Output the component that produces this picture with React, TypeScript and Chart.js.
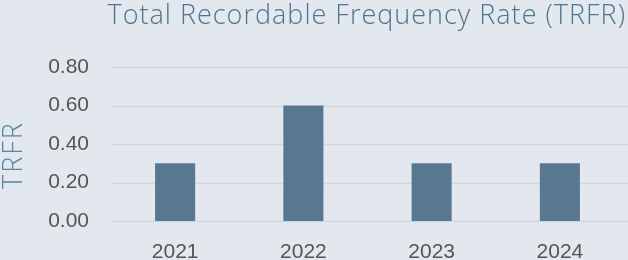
import React, { useEffect, useRef } from "react";
import { Chart, registerables } from "chart.js";

Chart.register(...registerables);

const categories = ["2021", "2022", "2023", "2024"];
const trfrValues = [0.3, 0.6, 0.3, 0.3];
const yTickValues = [0, 0.2, 0.4, 0.6, 0.8];
const yAxisTitle = "TRFR";
const chartTitle = "Total Recordable Frequency Rate (TRFR)";

const BG = "#e3e8ef";

const gridPlugin = {
  id: "extGrid",
  beforeDatasetsDraw(chart: any) {
    const { ctx, chartArea, scales } = chart;
    const y = scales.y;
    ctx.save();
    ctx.strokeStyle = "#d2d6db";
    ctx.lineWidth = 1.5;
    for (const v of yTickValues) {
      const py = Math.round(y.getPixelForValue(v)) + 0.5;
      ctx.beginPath();
      ctx.moveTo(chartArea.left, py);
      ctx.lineTo(chart.width, py);
      ctx.stroke();
    }
    ctx.restore();
  },
};

const textPlugin = {
  id: "texts",
  afterDraw(chart: any) {
    const { ctx } = chart;
    ctx.save();
    // chart title
    ctx.fillStyle = "#4f7690";
    ctx.font = "300 27px 'Open Sans'";
    (ctx as any).letterSpacing = "1px";
    ctx.textAlign = "right";
    ctx.textBaseline = "alphabetic";
    ctx.fillText(chartTitle, 626, 24);
    // y axis title
    ctx.translate(14, 155);
    ctx.rotate(-Math.PI / 2);
    ctx.fillStyle = "#5a84a0";
    (ctx as any).letterSpacing = "2px";
    ctx.font = "300 27px 'Open Sans'";
    ctx.textAlign = "center";
    ctx.textBaseline = "middle";
    ctx.fillText(yAxisTitle, 0, 0);
    ctx.restore();
  },
};

export default function App() {
  const ref = useRef<HTMLCanvasElement | null>(null);
  useEffect(() => {
    document.body.style.margin = "0";
    document.body.style.background = BG;
    const chart = new Chart(ref.current as HTMLCanvasElement, {
      type: "bar",
      data: {
        labels: categories,
        datasets: [
          {
            label: yAxisTitle,
            data: trfrValues,
            backgroundColor: "#587892",
            barPercentage: 0.3125,
            categoryPercentage: 1,
          },
        ],
      },
      plugins: [gridPlugin, textPlugin],
      options: {
        animation: false,
        responsive: false,
        layout: { padding: { left: 0, right: 4, top: 67, bottom: 0 } },
        plugins: {
          legend: { display: false },
          tooltip: { enabled: false },
          title: { display: false },
        },
        scales: {
          x: {
            grid: { display: false },
            border: { display: false },
            ticks: {
              color: "#555555",
              font: { family: "Liberation Sans", size: 21 },
              padding: 11,
            },
            afterFit(scale: any) {
              scale.height = 39;
            },
          },
          y: {
            min: 0,
            max: 0.8,
            grid: { display: false },
            border: { display: false },
            afterBuildTicks(scale: any) {
              scale.ticks = yTickValues.map((v) => ({ value: v }));
            },
            ticks: {
              color: "#555555",
              font: { family: "Liberation Sans", size: 21 },
              padding: 14,
              callback: (v: any) => Number(v).toFixed(2),
            },
            afterFit(scale: any) {
              scale.width = 111;
            },
          },
        },
      },
    });
    return () => chart.destroy();
  }, []);
  return (
    <div style={{ position: "fixed", left: 0, top: 0, width: 628, height: 260, background: BG }}>
      <canvas ref={ref} width={628} height={260} style={{ width: 628, height: 260 }} />
    </div>
  );
}
